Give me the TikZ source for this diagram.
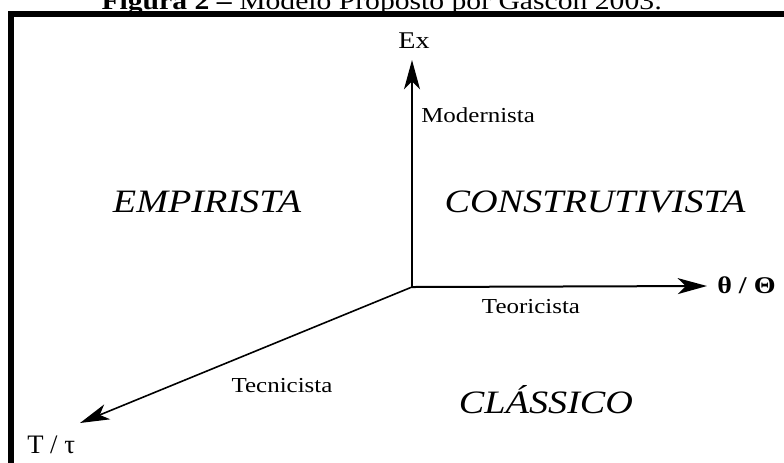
\documentclass[tikz,border=0pt]{standalone}
\usepackage{fontspec}
\setmainfont{Liberation Serif}
\usetikzlibrary{arrows.meta}
\newcommand{\widetxt}[1]{\scalebox{1.17}[1]{#1}}
\tikzset{
  axis/.style={line width=1.5pt, -{Stealth[length=22pt,width=12pt,inset=6pt]}},
  frame/.style={line width=4.5pt, draw=black},
  region/.style={font=\fontsize{24.5}{28}\selectfont\itshape, inner sep=0pt},
  axlabel/.style={font=\fontsize{16}{19}\selectfont, inner sep=0pt},
  endlabel/.style={font=\fontsize{18}{21}\selectfont, inner sep=0pt}
}
\begin{document}
\begin{tikzpicture}[x=0.75pt,y=-0.75pt]
\useasboundingbox (0,0) rectangle (784,462);
\clip (0,0) rectangle (784,462);
\fill[white] (0,0) rectangle (784,462);
% caption
\node[font=\fontsize{19}{22}\selectfont, inner sep=0pt, anchor=base] (cap) at (382,9) {\widetxt{\textbf{Figura 2 –} Modelo Proposto por Gascón 2003:}};
% frame
\draw[frame] (11,14) rectangle (800,480);
% axes
\coordinate (O) at (412,287);
\coordinate (tipEx) at (412,60);
\coordinate (tipTh) at (707,286);
\coordinate (tipT) at (80,423);
\draw[axis] (O) -- (tipEx);
\draw[axis] (O) -- (tipTh);
\draw[axis, line width=1.2pt] (O) -- (tipT);
% end labels
\node[endlabel, anchor=base] (ex) at (414,48) {\widetxt{Ex}};
\node[endlabel, anchor=base west, font=\fontsize{18}{21}\selectfont\bfseries] (th) at (717,293) {\widetxt{θ / Θ}};
\node[endlabel, anchor=base west, font=\fontsize{20}{24}\selectfont] (tt) at (27,453) {T / τ};
% axis labels
\node[axlabel, anchor=base west] (mod) at (421,122) {\widetxt{Modernista}};
\node[axlabel, anchor=base] (teo) at (531,313) {\widetxt{Teoricista}};
\node[axlabel, anchor=base] (tec) at (282,392) {\widetxt{Tecnicista}};
% regions
\node[region, anchor=base] (emp) at (207,212) {\widetxt{EMPIRISTA}};
\node[region, anchor=base] (con) at (595,212) {\widetxt{CONSTRUTIVISTA}};
\node[region, anchor=base] (cla) at (546,413) {\widetxt{CLÁSSICO}};
\end{tikzpicture}
\end{document}
